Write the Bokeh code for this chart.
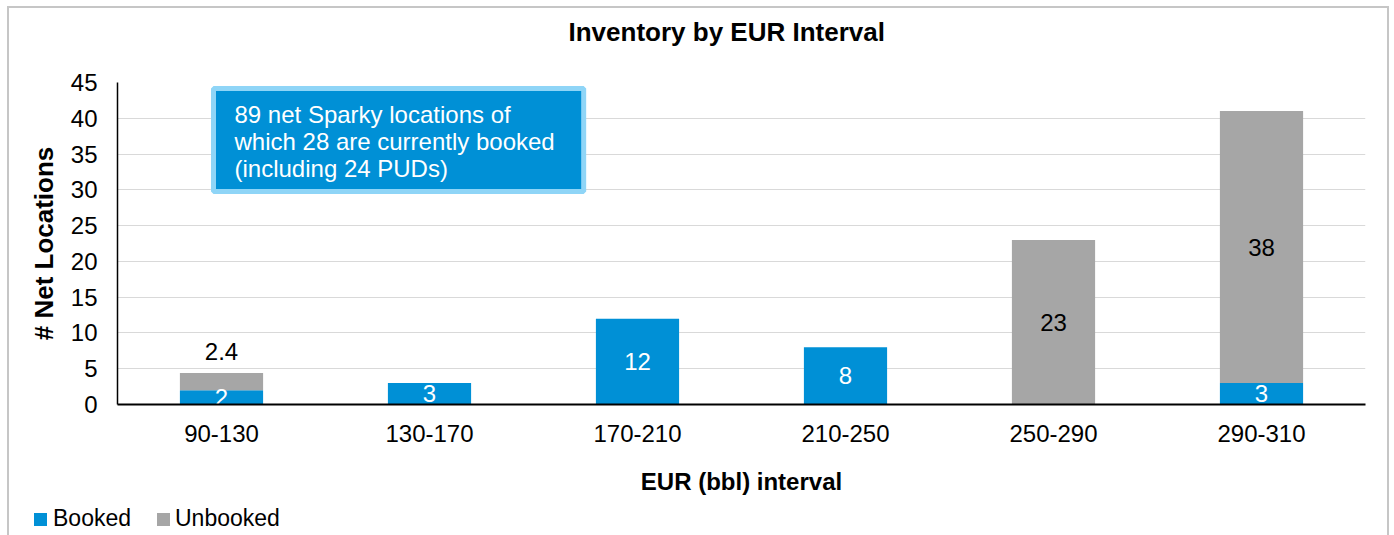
from bokeh.plotting import figure
from bokeh.layouts import column
from bokeh.models import (ColumnDataSource, FactorRange, Range1d, FixedTicker, Label, Div)
from bokeh.core.properties import value
from bokeh.embed import file_html
from bokeh.resources import INLINE

categories = ["90-130", "130-170", "170-210", "210-250", "250-290", "290-310"]
booked = [2, 3, 12, 8, 0, 3]
unbooked = [2.4, 0, 0, 0, 23, 38]
booked_labels = ["2", "3", "12", "8", "", "3"]
unbooked_labels = ["2.4", "", "", "", "23", "38"]
y_ticks = [0, 5, 10, 15, 20, 25, 30, 35, 40, 45]
series_names = ["Booked", "Unbooked"]

title_text = "Inventory by EUR Interval"
note_text = "89 net Sparky locations of\nwhich 28 are currently booked\n(including 24 PUDs)"

BLUE = "#0090D6"
GREY = "#A6A6A6"
series_colors = [BLUE, GREY]
FONT = "Liberation Sans"

source = ColumnDataSource(dict(cat=categories, booked=booked, unbooked=unbooked))

p = figure(x_range=FactorRange(*categories), y_range=Range1d(0, 45),
           width=1378, height=489, output_backend="svg", toolbar_location=None,
           min_border_left=108, min_border_right=22, min_border_top=74,
           min_border_bottom=92)
p.outline_line_color = None
p.background_fill_color = "white"
p.border_fill_color = "white"

# title (a blank second line lifts it towards the top edge)
p.title.text = title_text + "\n "
p.title.align = "left"
p.title.offset = 451
p.title.vertical_align = "top"
p.title.standoff = 8
p.title.text_line_height = 1.0
p.title.text_font = FONT
p.title.text_font_style = "bold"
p.title.text_font_size = "26px"
p.title.text_color = "black"

renderers = p.vbar_stack(["booked", "unbooked"], x="cat", width=0.4,
                         color=series_colors, line_color=None, source=source)

# axes
p.xgrid.grid_line_color = None
p.ygrid.grid_line_color = "#D9D9D9"
p.ygrid.grid_line_width = 1
p.yaxis.ticker = FixedTicker(ticks=y_ticks)
for ax in (p.xaxis[0], p.yaxis[0]):
    ax.major_tick_line_color = None
    ax.minor_tick_line_color = None
    ax.major_label_text_font = FONT
    ax.major_label_text_font_size = "24px"
    ax.major_label_text_color = "black"
    ax.axis_line_color = "black"
    ax.axis_label_text_font = FONT
    ax.axis_label_text_font_style = "bold"
    ax.axis_label_text_color = "black"
p.xaxis.axis_label_text_font_size = "24px"
p.yaxis.axis_label_text_font_size = "26px"
p.xaxis.axis_line_width = 2
p.yaxis.axis_line_width = 1.5
p.xaxis.major_label_standoff = 14
p.yaxis.major_label_standoff = 14
p.xaxis.axis_label = "EUR (bbl) interval"
p.xaxis.axis_label_standoff = 23
p.yaxis.axis_label = "# Net Locations"
p.yaxis.axis_label_standoff = 9

# value labels
bx, by, bt = [], [], []
for c, b, t in zip(categories, booked, booked_labels):
    if t:
        bx.append(c); by.append(b / 2); bt.append(t)
p.text(x=bx, y=by, text=bt, text_color="white", text_align="center",
       text_baseline="middle", text_font=value(FONT), text_font_size="24px")

ux, uy, ut, uoff = [], [], [], []
for c, b, u, t in zip(categories, booked, unbooked, unbooked_labels):
    if t:
        if u < 5:
            ux.append(c); uy.append(b + u); ut.append(t); uoff.append(-22)
        else:
            ux.append(c); uy.append(b + u / 2); ut.append(t); uoff.append(0)
p.text(x=ux, y=uy, text=ut, y_offset=uoff, text_color="black", text_align="center",
       text_baseline="middle", text_font=value(FONT), text_font_size="24px")

# note box
p.add_layout(Label(x=96, y=316, x_units="screen", y_units="screen", text=note_text,
                   text_align="left", text_baseline="top", text_font=FONT,
                   text_font_size="24px", text_color="white", text_line_height=1.0,
                   background_fill_color=BLUE, border_line_color="#8FD5F7",
                   border_line_width=5,
                   padding=dict(left=21, right=29, top=12, bottom=10)))

# legend strip below the chart
glyph_left = [25, 148]
text_left = [44, 166]
parts = []
for name, col, gl, tl in zip(series_names, series_colors, glyph_left, text_left):
    parts.append(f'<span style="position:absolute;left:{gl}px;top:16px;width:13px;'
                 f'height:13px;background:{col}"></span>')
    parts.append(f'<span style="position:absolute;left:{tl}px;top:10px;'
                 f'white-space:nowrap">{name}</span>')
legend_html = ('<div style="position:relative;width:1378px;height:38px;'
               "font-family:'Liberation Sans',Arial,sans-serif;font-size:23px;"
               'line-height:23px;color:#000">' + "".join(parts) + "</div>")
legend_div = Div(text=legend_html, width=1378, height=38,
                 styles={"margin": "0", "padding": "0"})

layout = column(p, legend_div, spacing=0,
                styles={"margin-left": "7px", "margin-top": "6px",
                        "border-left": "2px solid #C6C6C6",
                        "border-top": "2px solid #C6C6C6",
                        "border-right": "2px solid #C6C6C6"})

open("out.html", "w").write(file_html(layout, INLINE))
